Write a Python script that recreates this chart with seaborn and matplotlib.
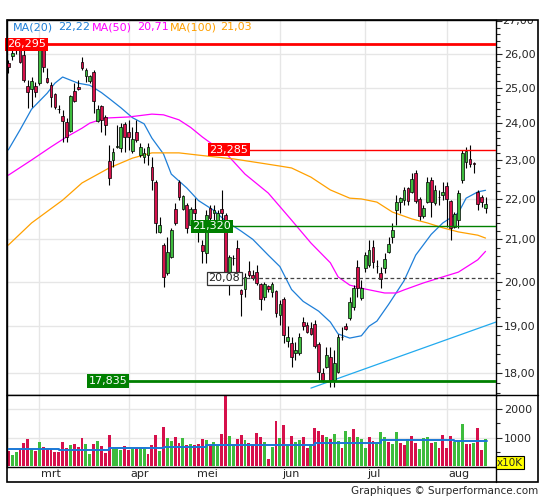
import matplotlib
matplotlib.use("Agg")
import matplotlib.pyplot as plt
import seaborn as sns
import numpy as np
from matplotlib.ticker import FixedLocator, FuncFormatter, NullFormatter
from matplotlib.transforms import blended_transform_factory, Bbox, TransformedBbox, ScaledTranslation
from matplotlib.lines import Line2D
from matplotlib.patches import Rectangle

# daily candles (price)
opens = [25.73, 25.94, 26.12, 26.18, 25.97, 25.06, 24.97, 25.06, 25.14, 26.21,
         25.29, 25.09, 24.83, 24.41, 24.21, 24.04, 23.79, 24.91, 25.03, 25.76,
         25.35, 25.20, 25.47, 24.07, 24.48, 24.18, 22.98, 23.01, 23.36, 23.33,
         23.99, 23.77, 23.25, 23.77, 23.15, 23.09, 23.15, 22.83, 22.44, 21.18,
         20.86, 20.20, 20.57, 21.74, 22.44, 21.74, 21.84, 21.35, 21.74, 21.42,
         20.86, 20.67, 21.77, 21.64, 21.47, 21.74, 21.59, 20.22, 20.55, 20.79,
         19.81, 19.83, 20.24, 20.15, 20.22, 19.95, 19.65, 19.90, 19.76, 19.79,
         19.25, 19.60, 18.68, 18.64, 18.42, 18.42, 19.09, 19.03, 18.96, 19.05,
         18.61, 18.00, 18.12, 18.33, 17.86, 18.02, 18.77, 19.00, 19.18, 19.42,
         20.34, 19.63, 20.31, 20.38, 20.81, 20.37, 20.20, 20.31, 20.69, 21.05,
         21.72, 21.92, 21.97, 22.28, 22.18, 22.67, 22.00, 21.57, 21.92, 22.49,
         21.90, 22.05, 22.10, 22.33, 21.95, 21.30, 21.47, 22.49, 22.96, 23.04,
         22.92, 22.18, 22.05, 21.77]
highs = [25.82, 26.12, 26.295, 26.24, 26.12, 25.23, 25.32, 25.17, 26.27, 26.27,
         25.58, 25.17, 24.85, 24.51, 24.37, 24.15, 24.80, 25.14, 25.23, 25.91,
         25.58, 25.38, 25.52, 24.51, 24.51, 24.24, 23.41, 23.33, 23.96, 24.01,
         24.04, 24.10, 23.90, 24.10, 23.47, 23.33, 23.47, 23.09, 22.49, 21.55,
         20.91, 21.05, 21.28, 21.90, 22.49, 22.10, 21.90, 21.79, 22.02, 21.47,
         20.98, 21.72, 21.84, 21.84, 21.72, 22.23, 21.64, 20.62, 20.62, 20.98,
         19.83, 20.20, 20.48, 20.27, 20.38, 19.97, 19.99, 19.92, 19.99, 19.81,
         19.58, 19.65, 19.00, 18.77, 18.66, 18.86, 19.20, 19.09, 19.09, 19.13,
         18.66, 18.10, 18.55, 18.55, 18.48, 18.83, 18.98, 19.07, 19.65, 19.92,
         20.50, 20.04, 20.69, 20.98, 20.98, 20.50, 20.34, 20.67, 21.05, 21.40,
         22.10, 22.05, 22.31, 22.31, 22.67, 22.75, 22.05, 21.84, 22.57, 22.57,
         22.36, 22.23, 22.44, 22.44, 21.97, 21.67, 22.23, 23.28, 23.36, 23.41,
         22.96, 22.23, 22.10, 22.05]
lows = [25.44, 25.82, 26.00, 25.73, 25.17, 24.43, 24.46, 24.74, 25.09, 25.47,
        25.14, 24.46, 24.40, 24.29, 23.50, 23.50, 23.77, 24.60, 24.94, 25.52,
        25.17, 25.14, 24.29, 24.04, 23.77, 23.69, 22.36, 22.83, 23.33, 23.23,
        23.23, 23.28, 23.20, 23.50, 23.09, 22.93, 22.88, 22.23, 21.16, 21.16,
        19.88, 20.15, 20.55, 21.35, 21.97, 21.72, 21.16, 21.30, 21.42, 20.93,
        20.43, 20.43, 21.42, 21.47, 21.35, 21.42, 19.92, 19.70, 20.38, 19.99,
        19.22, 19.65, 20.11, 20.04, 19.92, 19.36, 19.58, 19.76, 19.65, 19.20,
        19.03, 18.64, 18.55, 18.12, 18.27, 18.38, 18.92, 18.86, 18.81, 18.53,
        17.86, 17.82, 18.10, 17.71, 17.71, 18.00, 18.70, 18.92, 19.13, 19.36,
        19.65, 19.58, 20.22, 20.34, 20.31, 20.20, 19.86, 20.20, 20.67, 20.91,
        21.35, 21.64, 21.84, 21.84, 22.15, 21.90, 21.47, 21.52, 21.90, 21.55,
        21.84, 21.84, 21.97, 21.30, 20.98, 21.28, 21.28, 22.41, 22.80, 22.83,
        22.67, 21.72, 21.79, 21.64]
closes = [25.61, 26.03, 26.27, 25.76, 25.23, 24.88, 25.20, 24.88, 26.18, 25.61,
          25.17, 24.74, 24.46, 24.39, 24.07, 23.63, 24.77, 24.63, 24.97, 25.58,
          25.52, 25.35, 24.63, 24.40, 24.10, 23.96, 22.54, 23.23, 23.39, 23.90,
          23.63, 23.63, 23.58, 23.55, 23.36, 23.20, 23.36, 22.49, 21.40, 21.35,
          20.11, 20.69, 21.23, 21.40, 22.05, 22.07, 21.28, 21.74, 21.64, 21.18,
          20.71, 21.59, 21.52, 21.72, 21.64, 21.64, 20.04, 20.57, 20.56, 20.04,
          19.72, 20.11, 20.15, 20.08, 19.97, 19.60, 19.95, 19.83, 19.95, 19.29,
          19.49, 18.81, 18.77, 18.33, 18.48, 18.77, 19.00, 18.88, 18.83, 18.57,
          18.02, 17.86, 18.38, 17.86, 18.21, 18.77, 18.76, 18.94, 19.53, 19.86,
          19.86, 19.86, 20.62, 20.74, 20.45, 20.36, 20.06, 20.52, 20.88, 21.23,
          21.92, 22.02, 22.23, 21.95, 22.52, 21.95, 21.57, 21.77, 22.44, 21.92,
          22.23, 22.04, 22.18, 22.00, 21.28, 21.62, 22.15, 23.20, 23.25, 22.91,
          22.91, 21.87, 21.92, 21.87]

# volume (x10K) and bar direction g/r
volumes = [530, 390, 495, 566, 800, 943, 613, 530, 837, 672,
           590, 590, 495, 495, 850, 625, 730, 767, 672, 980,
           767, 413, 767, 873, 696, 448, 1085, 590, 590, 555,
           696, 555, 590, 648, 648, 590, 413, 730, 1085, 520,
           1366, 980, 873, 1013, 800, 980, 730, 767, 730, 767,
           943, 907, 730, 837, 730, 1120, 2600, 1050, 730, 943,
           1085, 907, 800, 767, 1156, 1013, 837, 236, 665, 1590,
           985, 1428, 755, 1062, 838, 920, 1027, 649, 720, 1345,
           1239, 1097, 1027, 944, 1121, 873, 649, 1239, 1027, 1298,
           1003, 944, 637, 1003, 885, 779, 1180, 1003, 861, 779,
           1180, 826, 732, 944, 1062, 791, 601, 991, 1038, 826,
           861, 625, 1085, 640, 1060, 840, 870, 1475, 780, 780,
           800, 1345, 565, 944]
vol_dir = list("rggrrrgrgr" "rrrrrrgrrr" "ggrgrrrggg" "rrgrggrrrg" "rggrrgrgrr"
               "rgrggrrggr" "rgrrrrgrgr" "grgrggrrgr" "rrgrggrggr" "gggrrgggrg"
               "grrgrrgggr" "grrrrgggrr" "grrg")
vol_avg_start = [0, 13, 26, 40, 51, 59, 79, 96, 115, 123.4]
vol_avg_vals = [613, 578, 648, 684, 720, 755, 826, 920, 885, 885]

# moving averages
ma20_x = [0, 3, 6, 10, 12, 14, 18, 21, 24, 26, 29, 32, 35, 37, 40, 42, 46, 49, 53, 56, 60,
          63, 67, 70, 73, 76, 80, 83, 85, 88, 91, 93, 95, 98, 102, 105, 109, 112, 116, 118, 121, 123]
ma20_y = [23.28, 23.82, 24.40, 24.85, 25.14, 25.32, 25.14, 25.08, 24.87, 24.70, 24.44, 24.16,
          23.99, 23.60, 23.17, 22.64, 22.28, 21.96, 21.71, 21.45, 21.20, 21.00, 20.62, 20.35,
          19.82, 19.55, 19.33, 19.09, 18.83, 18.74, 18.79, 19.00, 19.11, 19.48, 20.02, 20.62,
          21.12, 21.40, 21.65, 22.02, 22.18, 22.22]
ma50_x = [0, 6, 11, 15, 19, 21, 25, 31, 37, 40, 44, 47, 50, 53, 56, 61, 67, 73, 78, 83, 85,
          88, 92, 97, 100, 102, 107, 112, 116, 121, 123]
ma50_y = [22.61, 23.01, 23.36, 23.63, 23.87, 24.01, 24.15, 24.18, 24.26, 24.24, 24.10, 23.89,
          23.63, 23.40, 23.20, 22.64, 22.15, 21.47, 20.91, 20.44, 20.11, 19.92, 19.83, 19.74,
          19.74, 19.81, 19.97, 20.11, 20.22, 20.51, 20.71]
ma100_x = [0, 6, 14, 19, 26, 32, 37, 44, 49, 58, 65, 70, 73, 78, 83, 88, 91, 95, 99, 104,
           108, 112, 116, 121, 123]
ma100_y = [20.86, 21.40, 21.97, 22.41, 22.80, 23.06, 23.20, 23.20, 23.14, 23.04, 22.93, 22.85,
           22.80, 22.56, 22.23, 22.02, 22.00, 21.92, 21.67, 21.50, 21.40, 21.28, 21.18, 21.10, 21.03]
trend_x = [78, 125.7]
trend_y = [17.69, 19.09]

levels = [26.295, 23.285, 21.320, 20.08, 17.835]
month_idx = [8, 31, 48, 70, 92, 113]
month_names = ["mrt", "apr", "mei", "jun", "jul", "aug"]

RED = "#d6104b"
GREEN = "#3dbc3d"
C20, C50, C100 = "#1e7fd8", "#ff00ff", "#ffa000"

sns.set_style("white")
plt.rcParams["font.family"] = ["DejaVu Sans"]

W, H = 545, 500
fig = plt.figure(figsize=(W / 100, H / 100), dpi=100)
fx = lambda px: px / W
fy = lambda py: 1 - py / H
ax = fig.add_axes([fx(7), fy(395), fx(496) - fx(7), fy(20) - fy(395)])
axv = fig.add_axes([fx(7), fy(467), fx(496) - fx(7), fy(395) - fy(467)], sharex=ax)

n = len(opens)
x = np.arange(n)
o, h, l, c = map(np.array, (opens, highs, lows, closes))
up = c >= o

# grid
for yv in range(18, 27):
    ax.axhline(yv, color="#e6e6e6", lw=1, zorder=0)
for m in month_idx:
    ax.axvline(m, color="#e6e6e6", lw=1, zorder=0)
    axv.axvline(m, color="#e6e6e6", lw=1, zorder=0)
for yv in [1000, 2000]:
    axv.axhline(yv, color="#e6e6e6", lw=1, zorder=0)

# candles
ax.vlines(x, l, h, color="black", lw=0.8, zorder=3)
ax.bar(x, np.abs(c - o), bottom=np.minimum(o, c), width=0.7,
       color=np.where(up, GREEN, RED), edgecolor="black", linewidth=0.5, zorder=4)

# moving averages and trend
sns.lineplot(x=ma20_x, y=ma20_y, ax=ax, color=C20, lw=0.9, zorder=2)
sns.lineplot(x=ma50_x, y=ma50_y, ax=ax, color=C50, lw=0.9, zorder=2)
sns.lineplot(x=ma100_x, y=ma100_y, ax=ax, color=C100, lw=0.9, zorder=2)
sns.lineplot(x=trend_x, y=trend_y, ax=ax, color="#22aaee", lw=0.9, zorder=2)

xr = 125.7
ax.set_xlim(-0.34, xr)
ax.set_yscale("log")
ax.set_ylim(17.55, 27.04)

# levels and their labels
bt = blended_transform_factory(ax.transAxes, ax.transData)
ax.hlines(levels[0], -0.34, xr, color="#ff0000", lw=2, zorder=5)
ax.text(0.0, levels[0], "26,295", transform=bt, ha="left", va="center", color="white",
        fontsize=8, zorder=6, bbox=dict(boxstyle="square,pad=0.15", fc="#ff0000", ec="none"))
ax.hlines(levels[1], 61.5, xr, color="#ff0000", lw=1, zorder=5)
ax.text(56.8, levels[1], "23,285", ha="center", va="center", color="white", fontsize=8, zorder=6,
        bbox=dict(boxstyle="square,pad=0.15", fc="#ff0000", ec="none"))
ax.hlines(levels[2], 57.0, xr, color="#008000", lw=1, zorder=5)
ax.text(52.4, levels[2], "21,320", ha="center", va="center", color="white", fontsize=8, zorder=6,
        bbox=dict(boxstyle="square,pad=0.15", fc="#008000", ec="none"))
ax.hlines(levels[3], 59.7, xr, color="#444444", lw=0.9, linestyles=(0, (3, 2)), zorder=5)
ax.text(55.7, levels[3], "20,08", ha="center", va="center", color="#222222", fontsize=8, zorder=6,
        bbox=dict(boxstyle="square,pad=0.15", fc="white", ec="#333333", lw=0.9))
ax.hlines(levels[4], 30.6, xr, color="#008000", lw=2, zorder=5)
ax.text(25.7, levels[4], "17,835", ha="center", va="center", color="white", fontsize=8, zorder=6,
        bbox=dict(boxstyle="square,pad=0.15", fc="#008000", ec="none"))

# legend text
legend_items = [("MA(20)", 13, C20), (f"{ma20_y[-1]:.2f}".replace(".", ","), 58, C20),
                ("MA(50)", 92, C50), (f"{ma50_y[-1]:.2f}".replace(".", ","), 137, C50),
                ("MA(100)", 170, C100), (f"{ma100_y[-1]:.2f}".replace(".", ","), 220, C100)]
for txt, px, col in legend_items:
    fig.text(fx(px), fy(27), txt, color=col, fontsize=8, ha="left", va="center")

# price axis on the right
ax.yaxis.tick_right()
ax.yaxis.set_major_locator(FixedLocator(list(range(18, 28))))
ax.yaxis.set_minor_locator(FixedLocator([v / 5 for v in range(85, 136)]))
ax.yaxis.set_major_formatter(FuncFormatter(lambda v, p: "" if v >= 27 else f"{v:.2f}".replace(".", ",")))
ax.yaxis.set_minor_formatter(NullFormatter())
ax.tick_params(axis="y", which="major", direction="out", length=4, width=0.8, labelsize=8, pad=1.5)
ax.tick_params(axis="y", which="minor", direction="out", length=3, width=0.8)
ax.tick_params(axis="x", length=0, labelbottom=False)
top_lbl = ax.text(1.0125, 27, "27,00", transform=bt, ha="left", va="center", fontsize=8, clip_on=True)
top_lbl.set_clip_box(TransformedBbox(Bbox([[0, 0], [1, fy(20)]]), fig.transFigure))

# volume
axv.bar(x, volumes, width=0.75, color=[GREEN if d == "g" else RED for d in vol_dir],
        linewidth=0, zorder=2)
axv.plot(vol_avg_start, vol_avg_vals, drawstyle="steps-post", color="#1a78d6", lw=1.4, zorder=3)
axv.set_ylim(-40, 2505)
axv.yaxis.tick_right()
axv.yaxis.set_major_locator(FixedLocator([1000, 2000]))
axv.yaxis.set_minor_locator(FixedLocator([500, 1500, 2500]))
axv.yaxis.set_minor_formatter(NullFormatter())
axv.tick_params(axis="y", which="major", direction="out", length=4, width=0.8, labelsize=8, pad=1.5)
axv.tick_params(axis="y", which="minor", direction="out", length=3, width=0.8)
axv.set_xticks(month_idx)
axv.set_xticklabels(month_names, fontsize=8, ha="left")
axv.tick_params(axis="x", length=0, pad=1.5)
for lbl in axv.get_xticklabels():
    lbl.set_transform(lbl.get_transform() + ScaledTranslation(2 / 100, 0, fig.dpi_scale_trans))
for a in (ax, axv):
    a.set_xlabel("")
    a.set_ylabel("")
    for s in a.spines.values():
        s.set_color("black")
        s.set_linewidth(1)

fig.text(fx(510), fy(462.5), "x10K", fontsize=7.5, ha="center", va="center",
         bbox=dict(boxstyle="square,pad=0.1", fc="#ffff00", ec="black", lw=0.8))

# outer frame
fig.add_artist(Rectangle((fx(7), fy(482)), fx(538) - fx(7), fy(20) - fy(482), transform=fig.transFigure,
                         fill=False, ec="black", lw=1.2))
fig.add_artist(Line2D([fx(496), fx(496)], [fy(467), fy(482)], transform=fig.transFigure, color="black", lw=1))
fig.add_artist(Line2D([fx(496), fx(538)], [fy(395), fy(395)], transform=fig.transFigure, color="black", lw=1))

fig.text(fx(538), fy(491), "Graphiques \u00a9 Surperformance.com", ha="right", va="center", fontsize=7.5)

fig.savefig("out.png", dpi=100)
